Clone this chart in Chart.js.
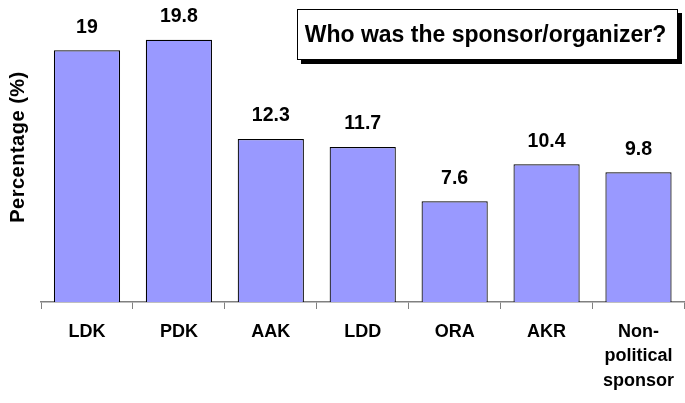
<!DOCTYPE html>
<html>
<head>
<meta charset="utf-8">
<script src="https://cdn.jsdelivr.net/npm/chart.js@4/dist/chart.umd.min.js"></script>
<style>
  body { margin: 0; background: #fff; }
  canvas { display: block; }
</style>
</head>
<body>
<canvas id="sponsor" width="685" height="403"></canvas>
<script>
var categories = ['LDK', 'PDK', 'AAK', 'LDD', 'ORA', 'AKR', ['Non-', 'political', 'sponsor']];
var percentages = [19, 19.8, 12.3, 11.7, 7.6, 10.4, 9.8];
var valueLabels = ['19', '19.8', '12.3', '11.7', '7.6', '10.4', '9.8'];
var chartTitle = 'Who was the sponsor/organizer?';
var yTitle = 'Percentage (%)';

var fontFamily = '"Liberation Sans", Arial, sans-serif';

// value labels above each bar
var valuePlugin = {
  id: 'valueLabels',
  afterDatasetsDraw: function(chart) {
    var ctx = chart.ctx;
    var meta = chart.getDatasetMeta(0);
    ctx.save();
    ctx.font = 'bold 19.5px ' + fontFamily;
    ctx.fillStyle = '#000';
    ctx.textAlign = 'center';
    ctx.textBaseline = 'middle';
    meta.data.forEach(function(bar, i) {
      ctx.fillText(valueLabels[i], bar.x, bar.y - 23);
    });
    ctx.restore();
  }
};

// boxed title with drop shadow + vertical axis title
var titleBoxPlugin = {
  id: 'titleBox',
  afterDraw: function(chart) {
    var ctx = chart.ctx;
    var x = 297, y = 9, w = 381, h = 51;
    ctx.save();
    ctx.fillStyle = '#000';
    ctx.fillRect(x + 4, y + 4, w, h);
    ctx.fillStyle = '#fff';
    ctx.fillRect(x, y, w, h);
    ctx.strokeStyle = '#000';
    ctx.lineWidth = 1;
    ctx.strokeRect(x + 0.5, y + 0.5, w - 1, h - 1);
    ctx.font = 'bold 23px ' + fontFamily;
    ctx.fillStyle = '#000';
    ctx.textAlign = 'center';
    ctx.textBaseline = 'middle';
    ctx.fillText(chartTitle, x + w / 2 - 2, y + h / 2 + 1);

    // y axis title
    ctx.translate(18, 147);
    ctx.rotate(-Math.PI / 2);
    ctx.font = 'bold 20px ' + fontFamily;
    ctx.letterSpacing = '0.5px';
    ctx.fillText(yTitle, 0, 0);
    ctx.restore();
  }
};

var ctx = document.getElementById('sponsor');
var chart = new Chart(ctx, {
  type: 'bar',
  data: {
    labels: categories,
    datasets: [{
      data: percentages,
      backgroundColor: '#9999FF',
      borderColor: '#000',
      borderWidth: 1.2,
      barPercentage: 0.72,
      categoryPercentage: 1
    }]
  },
  options: {
    responsive: false,
    animation: false,
    layout: { padding: 0 },
    plugins: {
      legend: { display: false },
      tooltip: { enabled: false }
    },
    scales: {
      x: {
        grid: {
          drawOnChartArea: false,
          color: '#808080',
          tickLength: 7,
          offset: true
        },
        border: { color: '#808080', width: 1.5 },
        ticks: {
          color: '#000',
          font: { family: fontFamily, size: 18, weight: 'bold', lineHeight: 1.35 },
          padding: 11,
          maxRotation: 0,
          autoSkip: false
        },
        afterFit: function(scale) { scale.height = 101; }
      },
      y: {
        min: 0,
        max: 22.8,
        grid: { display: false },
        border: { display: false },
        ticks: { display: false },
        title: { display: false },
        afterFit: function(scale) { scale.width = 41; }
      }
    }
  },
  plugins: [valuePlugin, titleBoxPlugin]
});
</script>
</body>
</html>
